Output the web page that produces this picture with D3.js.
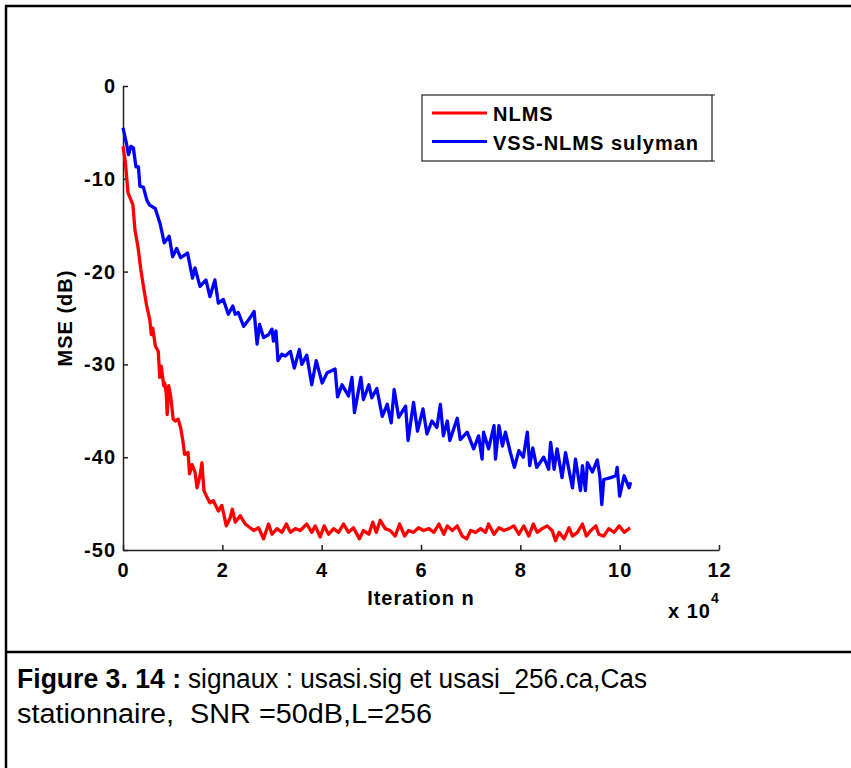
<!DOCTYPE html>
<html>
<head>
<meta charset="utf-8">
<script src="https://cdn.jsdelivr.net/npm/d3@7"></script>
<style>
  body { margin: 0; background: #fff; }
  svg text { font-family: 'Liberation Sans', Arial, sans-serif; }
</style>
</head>
<body>
<div class="container"></div>
<script>
// iteration axis in units of 10^4
const xTicks = [0, 2, 4, 6, 8, 10, 12];
const yTicks = [0, -10, -20, -30, -40, -50];
const seriesNames = ['NLMS', 'VSS-NLMS sulyman'];

const nlmsX = [0, 0.05, 0.10, 0.17, 0.20, 0.24, 0.30, 0.36, 0.40, 0.47,
  0.54, 0.57, 0.60, 0.65, 0.71, 0.74, 0.77, 0.82, 0.84, 0.87,
  0.89, 0.92, 0.96, 1.01, 1.05, 1.11, 1.16, 1.21, 1.24, 1.31,
  1.34, 1.39, 1.45, 1.49, 1.55, 1.59, 1.63, 1.68, 1.75,
  1.82, 1.92, 1.99, 2.08, 2.16, 2.20, 2.26, 2.36, 2.46, 2.56,
  2.63, 2.73, 2.83, 2.93, 3.00, 3.10, 3.20, 3.29, 3.37, 3.47,
  3.57, 3.70, 3.80, 3.87, 3.97, 4.05, 4.14, 4.24, 4.34, 4.44,
  4.54, 4.64, 4.76, 4.84, 4.95, 5.03, 5.10, 5.18, 5.28, 5.38,
  5.48, 5.57, 5.67, 5.75, 5.85, 5.95, 6.05, 6.16, 6.26, 6.36,
  6.46, 6.53, 6.63, 6.73, 6.83, 6.92, 7.00, 7.10, 7.20, 7.30,
  7.36, 7.47, 7.57, 7.67, 7.77, 7.87, 7.97, 8.07, 8.17, 8.26,
  8.34, 8.44, 8.54, 8.64, 8.71, 8.78, 8.88, 8.98, 9.05, 9.15,
  9.25, 9.33, 9.42, 9.52, 9.58, 9.68, 9.78, 9.89, 9.99, 10.09,
  10.21];
const nlmsY = [-6.5, -8.3, -11.5, -12.4, -12.8, -15.5, -17.3, -19.8, -21.2, -23.5,
  -25.2, -26.8, -26.1, -28.0, -28.6, -31.4, -30.2, -32.3, -32.0, -33.1,
  -35.4, -32.3, -33.4, -35.9, -36.1, -35.9, -36.8, -38.4, -39.7, -39.5,
  -41.8, -40.8, -41.6, -43.3, -42.0, -40.6, -43.6, -44.2, -44.9,
  -44.7, -45.8, -45.2, -47.4, -46.5, -45.6, -47.0, -46.3, -47.2, -47.6,
  -47.9, -47.6, -48.8, -47.2, -48.3, -47.7, -48.1, -47.2, -48.1, -47.7,
  -47.9, -47.2, -48.1, -47.4, -48.6, -47.4, -48.3, -47.7, -48.1, -47.2,
  -48.1, -47.6, -48.8, -47.9, -48.3, -47.0, -48.1, -46.8, -47.7, -47.9,
  -48.5, -47.2, -48.5, -47.9, -48.1, -47.6, -47.9, -47.7, -48.1, -47.2,
  -48.3, -47.4, -47.9, -47.4, -48.5, -48.8, -47.9, -48.1, -47.7, -48.1,
  -47.2, -48.3, -47.6, -47.9, -47.7, -47.4, -48.3, -47.4, -48.5, -47.2,
  -48.1, -47.7, -47.4, -47.9, -49.0, -48.1, -48.8, -47.6, -48.5, -48.1,
  -47.2, -48.5, -47.9, -47.4, -48.3, -48.5, -47.7, -48.1, -47.4, -48.1,
  -47.6];

const vssX = [0, 0.07, 0.11, 0.16, 0.21, 0.26, 0.31, 0.34, 0.41, 0.48,
  0.53, 0.65, 0.75, 0.83, 0.93, 1.00, 1.08, 1.16, 1.30, 1.40,
  1.45, 1.55, 1.67, 1.75, 1.85, 1.92, 2.02, 2.12, 2.21, 2.26,
  2.32, 2.43, 2.53, 2.64, 2.70, 2.75, 2.83, 2.93, 3.00, 3.03,
  3.08, 3.12, 3.20, 3.27, 3.37, 3.45, 3.55, 3.60, 3.70, 3.80,
  3.89, 4.01, 4.11, 4.27, 4.32, 4.41, 4.54, 4.61, 4.66, 4.79,
  4.84, 4.95, 5.01, 5.11, 5.22, 5.32, 5.40, 5.46, 5.55, 5.69,
  5.74, 5.85, 5.93, 6.04, 6.12, 6.22, 6.32, 6.39, 6.45, 6.53,
  6.58, 6.73, 6.79, 6.93, 7.06, 7.16, 7.23, 7.26, 7.36, 7.47,
  7.50, 7.57, 7.64, 7.70, 7.80, 7.88, 7.97, 8.06, 8.14, 8.19,
  8.25, 8.33, 8.47, 8.57, 8.61, 8.68, 8.74, 8.84, 8.91, 9.05,
  9.11, 9.21, 9.25, 9.31, 9.35, 9.45, 9.55, 9.60, 9.64, 9.68,
  9.82, 9.92, 9.95, 10.00, 10.09, 10.19, 10.22];
const vssY = [-4.5, -6.2, -7.4, -6.5, -6.7, -8.7, -8.7, -10.8, -10.9, -12.3,
  -12.8, -13.2, -14.9, -16.9, -16.2, -18.4, -17.5, -18.5, -18.0, -20.7,
  -19.6, -21.6, -20.9, -22.7, -20.9, -23.4, -23.0, -24.6, -23.7, -24.6,
  -24.4, -25.9, -25.2, -24.3, -27.8, -25.7, -27.1, -26.8, -26.2, -27.5,
  -26.4, -29.6, -28.9, -29.1, -28.6, -30.4, -28.4, -30.0, -29.0, -32.2,
  -29.6, -32.0, -30.9, -30.5, -33.5, -32.2, -33.4, -31.4, -35.2, -31.4,
  -33.8, -32.2, -33.6, -32.6, -35.6, -34.3, -36.3, -32.7, -35.7, -34.5,
  -38.2, -34.1, -37.2, -34.8, -37.5, -36.1, -36.8, -34.3, -37.7, -36.1,
  -38.2, -35.8, -38.1, -37.3, -39.1, -37.7, -40.2, -37.3, -39.1, -36.6,
  -40.2, -36.6, -38.8, -37.3, -39.5, -41.1, -39.3, -40.0, -37.3, -40.9,
  -39.0, -41.1, -40.0, -41.3, -38.4, -41.3, -39.1, -42.2, -39.5, -43.3,
  -40.2, -43.6, -40.9, -43.6, -40.6, -41.6, -40.3, -42.0, -45.1, -42.4,
  -42.2, -42.0, -41.1, -44.2, -42.0, -43.3, -42.7];

const colors = ['#ff0000', '#0000ff'];

const width = 851;
const height = 768;

const svg = d3
  .select('.container')
  .append('svg')
  .attr('width', width)
  .attr('height', height);

// frame of the figure cell
svg.append('path')
  .attr('d', 'M6,768 V6 H851 M6,652 H851')
  .attr('fill', 'none')
  .attr('stroke', '#000')
  .attr('stroke-width', 2.5);

const x = d3.scaleLinear().domain([0, 12]).range([123, 719]);
const y = d3.scaleLinear().domain([-50, 0]).range([550, 86]);

const font = g => g.selectAll('text')
  .attr('font-size', 20)
  .attr('font-weight', 'bold')
  .attr('fill', '#000')
  .style('letter-spacing', '1px');

// y axis
svg.append('g')
  .attr('class', 'y-axis')
  .attr('transform', `translate(${x(0)}, 0)`)
  .call(d3.axisLeft(y).tickValues(yTicks).tickSize(-5).tickSizeOuter(0)
    .tickPadding(7).tickFormat(d => String(d)))
  .call(font)
  .call(g => g.selectAll('path, line').attr('stroke', '#222').attr('stroke-width', 1.5));

// x axis
svg.append('g')
  .attr('class', 'x-axis')
  .attr('transform', `translate(0, ${y(-50)})`)
  .call(d3.axisBottom(x).tickValues(xTicks).tickSize(-5).tickSizeOuter(0)
    .tickPadding(13).tickFormat(d => String(d)))
  .call(font)
  .call(g => g.selectAll('path, line').attr('stroke', '#222').attr('stroke-width', 1.5));

// axis titles
svg.append('text')
  .attr('x', (x(0) + x(12)) / 2)
  .attr('y', 605)
  .attr('text-anchor', 'middle')
  .attr('font-size', 20)
  .attr('font-weight', 'bold')
  .style('letter-spacing', '1px')
  .text('Iteration n');

svg.append('text')
  .attr('transform', `translate(71.5, ${(y(0) + y(-50)) / 2}) rotate(-90)`)
  .attr('text-anchor', 'middle')
  .attr('font-size', 20)
  .attr('font-weight', 'bold')
  .style('letter-spacing', '1px')
  .text('MSE (dB)');

const expo = svg.append('text')
  .attr('x', 668)
  .attr('y', 618)
  .attr('font-size', 20)
  .attr('font-weight', 'bold')
  .style('letter-spacing', '1px');
expo.append('tspan').text('x 10');
expo.append('tspan').attr('dy', -15).attr('font-size', 14).text('4');

// curves
const line = d3.line().x(d => x(d[0])).y(d => y(d[1]));
const series = [
  nlmsX.map((d, i) => [d, nlmsY[i]]),
  vssX.map((d, i) => [d, vssY[i]])
];

svg.selectAll('.curve')
  .data(series)
  .enter()
  .append('path')
  .attr('class', 'curve')
  .attr('d', line)
  .attr('fill', 'none')
  .attr('stroke', (d, i) => colors[i])
  .attr('stroke-width', 3.3)
  .attr('stroke-linejoin', 'round');

// legend
const legend = svg.append('g').attr('class', 'legend');
legend.append('rect')
  .attr('x', 422).attr('y', 95)
  .attr('width', 290).attr('height', 66)
  .attr('fill', '#fff')
  .attr('stroke', '#222')
  .attr('stroke-width', 1.2);
legend.append('path')
  .attr('d', 'M712,95 H715 M712,161 H715')
  .attr('stroke', '#222')
  .attr('stroke-width', 1.2);

const items = legend.selectAll('.item')
  .data(seriesNames)
  .enter()
  .append('g')
  .attr('class', 'item')
  .attr('transform', (d, i) => `translate(0, ${113 + i * 28.5})`);

items.append('line')
  .attr('x1', 432).attr('x2', 487)
  .attr('stroke', (d, i) => colors[i])
  .attr('stroke-width', 3);

items.append('text')
  .attr('x', 493)
  .attr('y', 8)
  .attr('font-size', 20)
  .attr('font-weight', 'bold')
  .style('letter-spacing', '1px')
  .text(d => d);

// caption
const caption = svg.append('g').attr('class', 'caption');
caption.append('text')
  .attr('x', 17).attr('y', 688)
  .attr('font-size', 27).attr('font-weight', 'bold')
  .attr('textLength', 164).attr('lengthAdjust', 'spacingAndGlyphs')
  .text('Figure 3. 14 :');
caption.append('text')
  .attr('x', 188).attr('y', 688)
  .attr('font-size', 27)
  .attr('textLength', 459).attr('lengthAdjust', 'spacingAndGlyphs')
  .text('signaux : usasi.sig et usasi_256.ca,Cas');
caption.append('text')
  .attr('x', 17).attr('y', 723)
  .attr('font-size', 27)
  .style('white-space', 'pre')
  .attr('textLength', 415).attr('lengthAdjust', 'spacingAndGlyphs')
  .text('stationnaire,  SNR =50dB,L=256');
</script>
</body>
</html>
